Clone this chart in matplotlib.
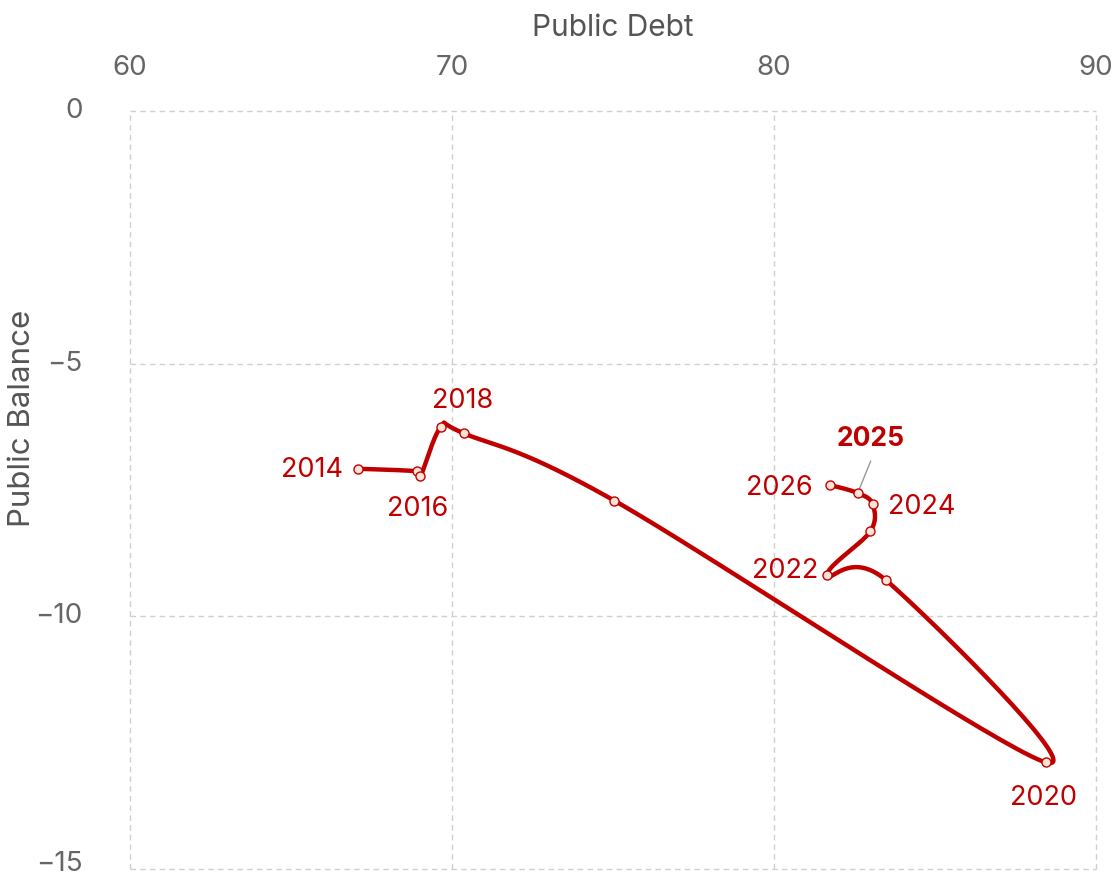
import matplotlib.pyplot as plt
import matplotlib.transforms as mtransforms
import numpy as np

# data
years = [2014, 2015, 2016, 2017, 2018, 2019, 2020, 2021, 2022, 2023, 2024, 2025, 2026]
public_debt = [67.09, 68.90, 69.02, 69.66, 70.37, 75.04, 88.44, 83.49, 81.66, 82.99, 83.06, 82.60, 81.73]
public_balance = [-7.08, -7.13, -7.23, -6.25, -6.38, -7.71, -12.89, -9.29, -9.19, -8.32, -7.78, -7.56, -7.40]
labelled_years = [2014, 2016, 2018, 2020, 2022, 2024, 2025, 2026]

red = '#c00000'
grey = '#666666'
plt.rcParams['font.family'] = ['Inter', 'DejaVu Sans']


def catmull_rom(px, py, n=40):
    # uniform Catmull-Rom through the points, in screen-like units
    P = np.column_stack([px, py])
    P = np.vstack([P[0], P, P[-1]])
    out = []
    for i in range(1, len(P) - 2):
        p0, p1, p2, p3 = P[i - 1], P[i], P[i + 1], P[i + 2]
        t = np.linspace(0, 1, n)[:, None]
        seg = 0.5 * ((2 * p1) + (-p0 + p2) * t + (2 * p0 - 5 * p1 + 4 * p2 - p3) * t ** 2
                     + (-p0 + 3 * p1 - 3 * p2 + p3) * t ** 3)
        out.append(seg)
    out = np.vstack(out)
    return out[:, 0], out[:, 1]


fig = plt.figure(figsize=(11.19, 8.79), dpi=100)
ax = fig.add_axes([130 / 1119, 9 / 879, 966 / 1119, 758 / 879])

# smooth in pixel-ish units so both axes are weighted alike
sx, sy = 32.2, 50.47
cx, cy = catmull_rom(np.array(public_debt) * sx, np.array(public_balance) * sy)
ax.plot(cx / sx, cy / sy, color=red, lw=3.2, solid_capstyle='round', zorder=3)
ax.plot(public_debt, public_balance, 'o', ms=6.5, mfc='#fde3d6', mec=red, mew=1.0, zorder=4)

offsets = {
    2014: (-15, 0, 'right'),
    2016: (-3, -32, 'center'),
    2018: (-1, 33, 'center'),
    2020: (-2, -35, 'center'),
    2022: (-9, 5, 'right'),
    2024: (15, -2, 'left'),
    2026: (-17, -2, 'right'),
}
for yr in labelled_years:
    i = years.index(yr)
    if yr == 2025:
        ax.annotate(str(yr), (public_debt[i], public_balance[i]), xytext=(13, 55),
                    textcoords='offset pixels', ha='center', va='center',
                    fontsize=19, fontweight='bold', color=red, zorder=5)
        ax.annotate('', (public_debt[i], public_balance[i]), xytext=(13, 32),
                    textcoords='offset pixels',
                    arrowprops=dict(arrowstyle='-', color='#999999', lw=1, shrinkA=0, shrinkB=3))
        continue
    dx, dy, ha = offsets[yr]
    ax.annotate(str(yr), (public_debt[i], public_balance[i]), xytext=(dx, dy),
                textcoords='offset pixels', ha=ha, va='center',
                fontsize=19.5, color=red, zorder=5)

ax.set_xlim(60, 90)
ax.set_ylim(-15, 0)
ax.set_xticks([60, 70, 80, 90])
ax.set_yticks([0, -5, -10, -15])
ax.set_yticklabels(['0', '\u22125', '\u221210', '\u221215'])
ax.xaxis.tick_top()
ax.xaxis.set_label_position('top')
ax.tick_params(length=0, labelsize=20, colors=grey, pad=22)
ax.tick_params(axis='y', pad=34)
# lift the y tick labels a little; the bottom one a bit more so it stays inside
for lbl in ax.get_yticklabels():
    up = 9 if lbl.get_text() == '\u221215' else 4
    shift = mtransforms.ScaledTranslation(0, up / 100, fig.dpi_scale_trans)
    lbl.set_transform(lbl.get_transform() + shift)
ax.set_xlabel('Public Debt', fontsize=21.5, color='#555555', labelpad=14)
fig.text(22 / 1119, 1 - 418 / 879, 'Public Balance', rotation=90, ha='center', va='center',
         fontsize=22.5, color='#555555')
ax.grid(True, ls=(0, (4, 3)), color='#d0d0d0', lw=1)
for gl in ax.get_xgridlines() + ax.get_ygridlines():
    gl.set_clip_on(False)
for s in ax.spines.values():
    s.set_visible(False)
ax.set_axisbelow(True)

plt.savefig('out.png', dpi=100)
